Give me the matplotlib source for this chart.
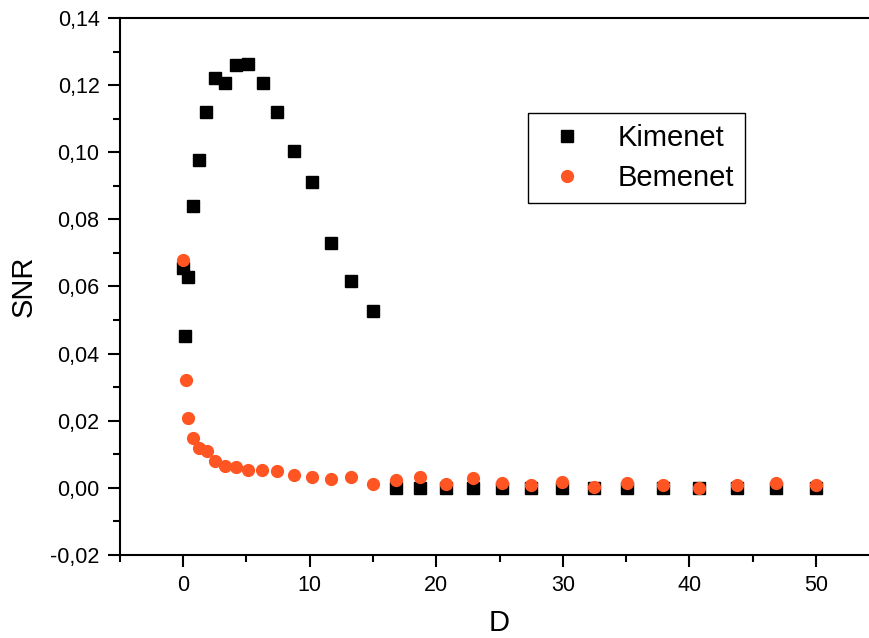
import matplotlib
matplotlib.use("Agg")
import matplotlib.pyplot as plt
from matplotlib.ticker import MultipleLocator, FuncFormatter

plt.rcParams["font.family"] = ["Liberation Sans", "DejaVu Sans"]

# Kimenet (output) SNR
d_out = [0.0, 0.16, 0.42, 0.81, 1.26, 1.84, 2.53, 3.29, 4.19, 5.16, 6.29, 7.45,
         8.74, 10.16, 11.69, 13.27, 15.03, 16.82, 18.74, 20.79, 22.9, 25.16,
         27.5, 29.93, 32.48, 35.08, 37.9, 40.78, 43.73, 46.8, 49.97]
snr_out = [0.0654, 0.0452, 0.0627, 0.0840, 0.0977, 0.1120, 0.1222, 0.1207,
           0.1260, 0.1263, 0.1207, 0.1119, 0.1003, 0.0910, 0.0730, 0.0615,
           0.0526, 0.0, 0.0, 0.0, 0.0, 0.0, 0.0, 0.0, 0.0, 0.0, 0.0, 0.0,
           0.0, 0.0, 0.0]

# Bemenet (input) SNR
d_in = [0.02, 0.2, 0.42, 0.79, 1.26, 1.86, 2.55, 3.29, 4.19, 5.16, 6.24, 7.45,
        8.74, 10.16, 11.69, 13.27, 15.03, 16.82, 18.74, 20.79, 22.9, 25.16,
        27.5, 29.93, 32.48, 35.08, 37.9, 40.78, 43.73, 46.8, 49.97]
snr_in = [0.0679, 0.0320, 0.0207, 0.0150, 0.0119, 0.0109, 0.0079, 0.0064,
          0.0062, 0.0053, 0.0053, 0.0050, 0.0037, 0.0031, 0.0027, 0.0031,
          0.0011, 0.0024, 0.0033, 0.0011, 0.0029, 0.0015, 0.0008, 0.0017,
          0.0003, 0.0014, 0.0008, 0.0000, 0.0009, 0.0014, 0.0009]

fig = plt.figure(figsize=(8.69, 6.38), dpi=100)
# the frame runs past the right edge of the figure
ax = fig.add_axes([0.1378, 0.1301, 0.8741, 0.8417])

ax.plot(d_out, snr_out, linestyle="none", marker="s", markersize=8,
        color="black", label="Kimenet")
ax.plot(d_in, snr_in, linestyle="none", marker="o", markersize=8.5,
        color="#FF5522", label="Bemenet")

ax.set_xlim(-5, 55)
ax.set_ylim(-0.02, 0.14)

ax.xaxis.set_major_locator(MultipleLocator(10))
ax.xaxis.set_minor_locator(MultipleLocator(5))
ax.yaxis.set_major_locator(MultipleLocator(0.02))
ax.yaxis.set_minor_locator(MultipleLocator(0.01))
ax.yaxis.set_major_formatter(
    FuncFormatter(lambda v, p: f"{v:.2f}".replace(".", ",").replace("-0,00", "0,00")))

for s in ax.spines.values():
    s.set_linewidth(1.5)
ax.spines["right"].set_visible(False)
ax.tick_params(which="major", direction="out", length=8.5, width=1.5,
               labelsize=15.5, pad=6)
ax.tick_params(which="minor", direction="out", length=5, width=1.5)
ax.tick_params(top=False, right=False, which="both")

ax.set_xlabel("D", fontsize=21, labelpad=9.5)
ax.set_ylabel("SNR", fontsize=21, labelpad=9)

ax.legend(loc="upper left", bbox_to_anchor=(0.6076, 0.8229),
          bbox_transform=fig.transFigure, fontsize=21, frameon=True,
          fancybox=False, edgecolor="black", framealpha=1,
          handlelength=1.9, handletextpad=0.8, borderpad=0.38,
          labelspacing=0.42, borderaxespad=0)
ax.get_legend().get_frame().set_linewidth(1.0)

fig.savefig("out.png", dpi=100)
